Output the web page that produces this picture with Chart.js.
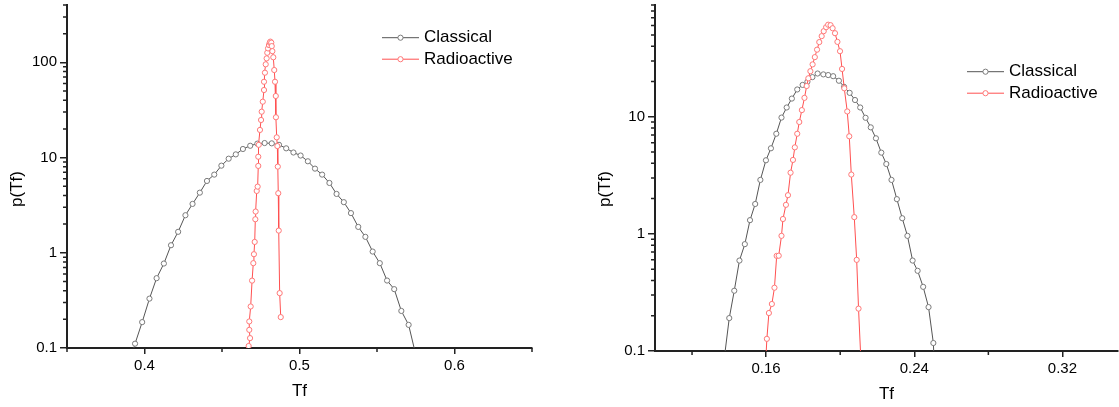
<!DOCTYPE html>
<html>
<head>
<meta charset="utf-8">
<script src="https://cdn.jsdelivr.net/npm/chart.js@4.4.0/dist/chart.umd.min.js"></script>
<style>
html, body { margin: 0; padding: 0; background: #fff; overflow: hidden; width: 1119px; height: 407px; }
#wrapL { position: absolute; left: 0; top: 0; width: 560px; height: 407px; }
#wrapR { position: absolute; left: 560px; top: 0; width: 563px; height: 407px; }
</style>
</head>
<body>
<div id="wrapL"><canvas id="left" width="560" height="407"></canvas></div>
<div id="wrapR"><canvas id="right" width="563" height="407"></canvas></div>
<script>
// ---- data ----
// left panel
const leftClassicalTf = [0.3892, 0.3939, 0.3985, 0.4032, 0.4078, 0.4125, 0.4171, 0.4217, 0.4264, 0.4310,
  0.4357, 0.4403, 0.4450, 0.4496, 0.4543, 0.4589, 0.4635, 0.4682, 0.4728, 0.4775,
  0.4821, 0.4868, 0.4914, 0.4961, 0.5007, 0.5054, 0.5100, 0.5146, 0.5193, 0.5239,
  0.5286, 0.5332, 0.5379, 0.5425, 0.5472, 0.5518, 0.5565, 0.5611, 0.5657, 0.5704, 0.5750];
const leftClassicalP = [0.06, 0.111, 0.187, 0.330, 0.541, 0.771, 1.20, 1.66, 2.48, 3.26,
  4.28, 5.68, 6.62, 8.22, 9.73, 10.8, 12.3, 13.3, 14.0, 14.2,
  14.1, 13.6, 12.5, 11.3, 10.5, 9.14, 7.65, 6.62, 5.41, 4.15,
  3.40, 2.61, 1.87, 1.47, 1.03, 0.778, 0.511, 0.415, 0.245, 0.175, 0.085];

const leftRadioTf = [0.4672, 0.4681, 0.4676, 0.4676, 0.4685, 0.4694, 0.4702, 0.4706, 0.4711, 0.4715,
  0.4717, 0.4724, 0.4730, 0.4734, 0.4734, 0.4737, 0.4745, 0.4752, 0.4756, 0.4763,
  0.4771, 0.4771, 0.4777, 0.4782, 0.4788, 0.4792, 0.4797, 0.4803, 0.4808, 0.4812,
  0.4818, 0.4821, 0.4825, 0.4831, 0.4837, 0.4842, 0.4847, 0.4848, 0.4853, 0.4857,
  0.4860, 0.4863, 0.4866, 0.4872, 0.4879];
const leftRadioP = [0.105, 0.127, 0.155, 0.19, 0.273, 0.51, 0.778, 0.966, 1.30, 2.25,
  2.71, 4.46, 4.95, 8.17, 10.2, 13.6, 19.5, 24.8, 30.3, 38.6,
  51.2, 62.5, 77.8, 95.3, 110, 126, 140, 152, 161, 165,
  161, 148, 131, 113, 83, 62.5, 44.3, 26.5, 16.3, 13.2,
  8.03, 4.22, 1.71, 0.377, 0.211];

// right panel
const rightClassicalTf = [0.1373, 0.1401, 0.1428, 0.1456, 0.1485, 0.1513, 0.1541, 0.1569, 0.1599, 0.1626,
  0.1655, 0.1683, 0.1711, 0.1739, 0.1768, 0.1797, 0.1823, 0.1850, 0.1878, 0.1909,
  0.1935, 0.1962, 0.1993, 0.2021, 0.2051, 0.2080, 0.2108, 0.2137, 0.2165, 0.2193,
  0.2222, 0.2249, 0.2277, 0.2306, 0.2335, 0.2363, 0.2391, 0.2418, 0.2448, 0.2477, 0.2503, 0.2531];
const rightClassicalP = [0.084, 0.191, 0.327, 0.592, 0.817, 1.31, 1.80, 2.89, 4.25, 5.38,
  7.16, 9.84, 12.0, 14.3, 17.1, 18.7, 19.9, 21.8, 23.4, 23.0,
  22.7, 22.2, 20.3, 18.0, 16.0, 13.9, 12.0, 9.80, 8.12, 6.55,
  4.94, 3.95, 2.89, 1.98, 1.36, 0.962, 0.592, 0.484, 0.353, 0.237, 0.117, 0.01];

const rightRadioTf = [0.1596, 0.1604, 0.1615, 0.1631, 0.1645, 0.1657, 0.1668, 0.1683, 0.1691, 0.1707,
  0.1718, 0.1732, 0.1745, 0.1755, 0.1768, 0.1779, 0.1793, 0.1807, 0.1819, 0.1828,
  0.1839, 0.1851, 0.1863, 0.1875, 0.1887, 0.1900, 0.1911, 0.1924, 0.1935, 0.1948,
  0.1959, 0.1972, 0.1985, 0.1999, 0.2010, 0.2022, 0.2038, 0.2049, 0.2060, 0.2076,
  0.2089, 0.2099, 0.2114];
const rightRadioP = [0.07, 0.127, 0.211, 0.252, 0.347, 0.649, 0.651, 0.962, 1.34, 1.77,
  2.14, 3.33, 4.28, 5.48, 7.16, 9.02, 11.4, 14.5, 18.3, 21.3,
  24.5, 28.0, 32.3, 37.4, 43.4, 48.8, 53.8, 58.2, 61.1, 60.5,
  57.0, 51.7, 43.6, 36.3, 25.6, 17.5, 11.1, 6.81, 3.21, 1.39,
  0.600, 0.230, 0.07];

// tick values
const leftXMajor = [0.4, 0.5, 0.6];
const leftXMinor = [0.35, 0.45, 0.55, 0.65];
const leftYMajor = [0.1, 1, 10, 100];
const leftYMinor = [0.2, 0.3, 0.4, 0.5, 0.6, 0.7, 0.8, 0.9, 2, 3, 4, 5, 6, 7, 8, 9,
  20, 30, 40, 50, 60, 70, 80, 90, 200, 300, 400];
const rightXMajor = [0.16, 0.24, 0.32];
const rightXMinor = [0.12, 0.20, 0.28];
const rightYMajor = [0.1, 1, 10];
const rightYMinor = [0.2, 0.3, 0.4, 0.5, 0.6, 0.7, 0.8, 0.9, 2, 3, 4, 5, 6, 7, 8, 9,
  20, 30, 40, 50, 60, 70, 80, 90];

// ---- styles ----
const FONT = '"Liberation Sans", Arial, sans-serif';
Chart.defaults.font.family = FONT;
Chart.defaults.color = '#000';
const axisColor = '#222';
const grayLine = '#555', grayMark = '#7a7a7a';
const redLine = '#ff5050', redMark = '#ff7878';

function series(label, xs, ys, line, mark, order) {
  return {
    label: label,
    order: order,
    data: xs.map((x, i) => ({ x: x, y: ys[i] })),
    borderColor: line,
    borderWidth: 1,
    pointRadius: 2.6,
    pointBorderWidth: 1,
    pointBackgroundColor: '#fff',
    pointBorderColor: mark,
    tension: 0,
    fill: false
  };
}

// minor ticks, rotated y title and the legend
const decoPlugin = {
  id: 'deco',
  afterDraw(chart, args, o) {
    const ctx = chart.ctx, a = chart.chartArea;
    const xs = chart.scales.x, ys = chart.scales.y;
    ctx.save();
    ctx.strokeStyle = axisColor;
    ctx.lineWidth = 1.5;
    ctx.beginPath();
    o.xMinor.forEach(v => {
      const p = xs.getPixelForValue(v);
      ctx.moveTo(p, a.bottom); ctx.lineTo(p, a.bottom + 4);
    });
    o.yMinor.forEach(v => {
      const p = ys.getPixelForValue(v);
      ctx.moveTo(a.left - 4, p); ctx.lineTo(a.left, p);
    });
    ctx.stroke();

    ctx.fillStyle = '#000';
    ctx.font = '17px ' + FONT;
    ctx.textAlign = 'center';
    ctx.textBaseline = 'middle';
    ctx.save();
    ctx.translate(o.yTitle[0], o.yTitle[1]);
    ctx.rotate(-Math.PI / 2);
    ctx.fillText('p(Tf)', 0, 0);
    ctx.restore();

    chart.data.datasets.forEach((ds, i) => {
      const x0 = o.legend[0], y = o.legend[1] + i * 21.5;
      ctx.strokeStyle = ds.borderColor;
      ctx.lineWidth = 1;
      ctx.beginPath(); ctx.moveTo(x0, y); ctx.lineTo(x0 + 37, y); ctx.stroke();
      ctx.beginPath(); ctx.arc(x0 + 18.5, y, 2.6, 0, Math.PI * 2);
      ctx.fillStyle = '#fff'; ctx.fill();
      ctx.strokeStyle = ds.pointBorderColor; ctx.stroke();
      ctx.fillStyle = '#000';
      ctx.font = '17px ' + FONT;
      ctx.textAlign = 'left';
      ctx.fillText(ds.label, x0 + 42, y);
    });
    ctx.restore();
  }
};

function makeChart(id, c) {
  return new Chart(document.getElementById(id), {
    type: 'line',
    data: {
      datasets: [
        series('Classical', c.cx, c.cy, grayLine, grayMark, 1),
        series('Radioactive', c.rx, c.ry, redLine, redMark, 0)
      ]
    },
    options: {
      responsive: false,
      animation: false,
      devicePixelRatio: 1,
      layout: { padding: { top: 5, right: c.padRight, left: 0, bottom: 0 } },
      plugins: {
        legend: { display: false },
        tooltip: { enabled: false },
        deco: { xMinor: c.xMinor, yMinor: c.yMinor, yTitle: c.yTitle, legend: c.legend }
      },
      scales: {
        x: {
          type: 'linear',
          min: c.xMin,
          max: c.xMax,
          afterBuildTicks: s => { s.ticks = c.xMajor.map(v => ({ value: v })); },
          afterFit: s => { s.height = c.xAxisH; s.paddingLeft = 0; s.paddingRight = 0; },
          ticks: { font: { size: 15 }, color: '#000', padding: 3, maxRotation: 0, autoSkip: false,
            callback: v => String(v) },
          grid: { drawOnChartArea: false, tickLength: 6, color: axisColor, lineWidth: 1.5 },
          border: { color: axisColor, width: 2 },
          title: { display: true, text: 'Tf', font: { size: 17 }, color: '#000',
            padding: { top: 0, bottom: c.titlePad } }
        },
        y: {
          type: 'logarithmic',
          min: c.yMin,
          max: c.yMax,
          afterBuildTicks: s => { s.ticks = c.yMajor.map(v => ({ value: v })); },
          afterFit: s => { s.width = c.yAxisW; s.paddingTop = 0; s.paddingBottom = 0; },
          ticks: { font: { size: 15 }, color: '#000', padding: 3, autoSkip: false,
            callback: v => String(v) },
          grid: { drawOnChartArea: false, tickLength: 7, color: axisColor, lineWidth: 1.5 },
          border: { color: axisColor, width: 2 }
        }
      }
    },
    plugins: [decoPlugin]
  });
}

makeChart('left', {
  cx: leftClassicalTf, cy: leftClassicalP, rx: leftRadioTf, ry: leftRadioP,
  xMin: 0.35, xMax: 0.65, yMin: 0.1, yMax: 400,
  xMajor: leftXMajor, xMinor: leftXMinor, yMajor: leftYMajor, yMinor: leftYMinor,
  padRight: 28, xAxisH: 59, yAxisW: 67, titlePad: 5,
  yTitle: [17, 189], legend: [382, 37.7]
});

makeChart('right', {
  cx: rightClassicalTf, cy: rightClassicalP, rx: rightRadioTf, ry: rightRadioP,
  xMin: 0.10, xMax: 0.35, yMin: 0.1, yMax: 90,
  xMajor: rightXMajor, xMinor: rightXMinor, yMajor: rightYMajor, yMinor: rightYMinor,
  padRight: 0, xAxisH: 56, yAxisW: 95, titlePad: 2,
  yTitle: [45, 189], legend: [407, 71.7]
});
</script>
</body>
</html>
